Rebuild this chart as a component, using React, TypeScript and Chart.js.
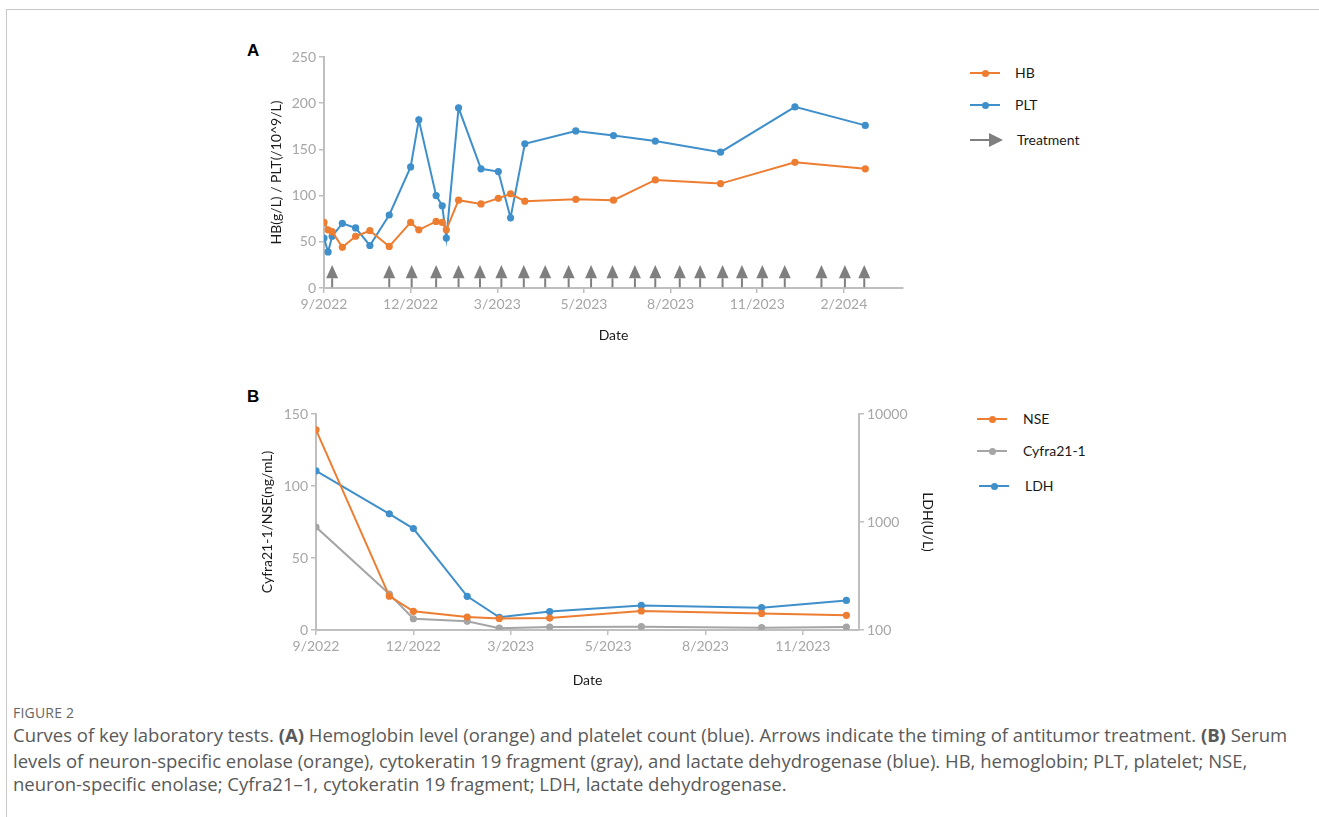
import React, { useEffect, useRef } from "react";
import { Chart, registerables } from "chart.js";

Chart.register(...registerables);

// ---------- Data ----------
const tickStepDays = 85;
const tickLabelsA = ["9/2022", "12/2022", "3/2023", "5/2023", "8/2023", "11/2023", "2/2024"];
const tickLabelsB = ["9/2022", "12/2022", "3/2023", "5/2023", "8/2023", "11/2023"];

// Panel A (days since first axis tick)
const daysA = [0, 4, 8, 18, 31, 45, 64, 85, 93, 110, 116, 120, 132, 154, 171, 183, 197, 247, 284, 325, 389, 462, 531];
const hbValues = [71, 63, 61, 44, 56, 62, 45, 71, 63, 72, 71, 63, 95, 91, 97, 102, 94, 96, 95, 117, 113, 136, 129];
const pltValues = [54, 39, 56, 70, 65, 46, 79, 131, 182, 100, 89, 54, 195, 129, 126, 76, 156, 170, 165, 159, 147, 196, 176];
const treatmentDays = [8, 64, 86, 110, 132, 153, 174, 196, 217, 240, 262, 283, 305, 325, 349, 369, 391, 410, 430, 452, 488, 511, 530];

// Panel B
const daysB = [0, 64, 85, 132, 160, 204, 284, 389, 463];
const nseValues = [139, 23.5, 13, 9, 8, 8.3, 13.2, 11.5, 10.2];
const cyfraValues = [71.5, 25, 7.8, 6, 1.3, 2.1, 2.3, 1.6, 2.1];
const ldhValues = [2980, 1190, 870, 205, 131, 148, 169, 161, 188];

const yTicksA = [0, 50, 100, 150, 200, 250];
const yTicksB = [0, 50, 100, 150];
const yTicksLDH = [100, 1000, 10000];

// ---------- Styles ----------
const ORANGE = "#ED7D31";
const BLUE = "#3F8FCB";
const GRAY = "#A5A5A5";
const ARROW = "#7F7F7F";
const AXIS = "#BFBFBF";
const TICKTXT = "#A6A6A6";
const TITLE = "#1A1A1A";
const FONT = "Lato, 'Open Sans', sans-serif";

const ARROW_TIP = 25;
const ARROW_BASE = 10.5;
const ARROW_TAIL = 0.8;

const tickFont = { family: FONT, size: 14 };
const titleFont = { family: FONT, size: 14 };

const arrowPlugin = {
  id: "treatmentArrows",
  beforeDatasetsDraw(chart: any) {
    const xs = chart.scales.x;
    const ys = chart.scales.y;
    const ctx = chart.ctx;
    ctx.save();
    ctx.fillStyle = ARROW;
    ctx.strokeStyle = ARROW;
    ctx.lineWidth = 2;
    const yTip = ys.getPixelForValue(ARROW_TIP);
    const yBase = ys.getPixelForValue(ARROW_BASE);
    const yEnd = ys.getPixelForValue(ARROW_TAIL);
    for (const d of treatmentDays) {
      const x = xs.getPixelForValue(d);
      ctx.beginPath();
      ctx.moveTo(x, yBase);
      ctx.lineTo(x, yEnd);
      ctx.stroke();
      ctx.beginPath();
      ctx.moveTo(x, yTip);
      ctx.lineTo(x - 6, yBase);
      ctx.lineTo(x + 6, yBase);
      ctx.closePath();
      ctx.fill();
    }
    ctx.restore();
  },
};

function lineDs(label: string, xs: number[], ys: number[], color: string, axis = "y") {
  return {
    label,
    data: xs.map((x, i) => ({ x, y: ys[i] })),
    borderColor: color,
    backgroundColor: color,
    borderWidth: 2,
    pointRadius: 3.6,
    pointBorderWidth: 0,
    pointHoverRadius: 3.6,
    tension: 0,
    yAxisID: axis,
  };
}

const gridCfg = { drawOnChartArea: false, drawTicks: true, tickLength: 5, color: AXIS, lineWidth: 1.5 };
const borderCfg = { display: true, color: AXIS, width: 2 };

function xScale(labels: string[], max: number, height: number) {
  return {
    type: "linear",
    min: 0,
    max,
    afterBuildTicks: (s: any) => {
      s.ticks = labels.map((_, i) => ({ value: i * tickStepDays }));
    },
    afterFit: (s: any) => {
      s.height = height;
    },
    ticks: {
      callback: (_v: any, i: number) => labels[i],
      color: TICKTXT,
      font: tickFont,
      padding: 3,
      maxRotation: 0,
      autoSkip: false,
    },
    grid: gridCfg,
    border: borderCfg,
    title: { display: true, text: "Date", color: TITLE, font: titleFont, padding: { top: 0, bottom: 6 } },
  };
}

function configA(): any {
  return {
    type: "line",
    data: {
      datasets: [lineDs("HB", daysA, hbValues, ORANGE), lineDs("PLT", daysA, pltValues, BLUE)],
    },
    options: {
      responsive: false,
      animation: false,
      devicePixelRatio: 1,
      layout: { padding: { top: 17, right: 17, left: 0, bottom: 0 } },
      plugins: { legend: { display: false }, tooltip: { enabled: false } },
      scales: {
        x: xScale(tickLabelsA, 568, 62),
        y: {
          type: "linear",
          min: 0,
          max: 250,
          afterBuildTicks: (s: any) => {
            s.ticks = yTicksA.map((v) => ({ value: v }));
          },
          afterFit: (s: any) => {
            s.width = 94;
          },
          ticks: { color: TICKTXT, font: tickFont, padding: 3 },
          grid: gridCfg,
          border: borderCfg,
          title: {
            display: true,
            text: "HB(g/L) / PLT(/10^9/L)",
            color: TITLE,
            font: titleFont,
            padding: { top: 38, bottom: 0 },
          },
        },
      },
    },
    plugins: [arrowPlugin],
  };
}

function configB(): any {
  return {
    type: "line",
    data: {
      datasets: [
        lineDs("NSE", daysB, nseValues, ORANGE),
        lineDs("Cyfra21-1", daysB, cyfraValues, GRAY),
        lineDs("LDH", daysB, ldhValues, BLUE, "y1"),
      ],
    },
    options: {
      responsive: false,
      animation: false,
      devicePixelRatio: 1,
      layout: { padding: { top: 19, right: 0, left: 0, bottom: 0 } },
      plugins: { legend: { display: false }, tooltip: { enabled: false } },
      scales: {
        x: xScale(tickLabelsB, 474, 65),
        y: {
          type: "linear",
          position: "left",
          min: 0,
          max: 150,
          afterBuildTicks: (s: any) => {
            s.ticks = yTicksB.map((v) => ({ value: v }));
          },
          afterFit: (s: any) => {
            s.width = 86;
          },
          ticks: { color: TICKTXT, font: tickFont, padding: 3 },
          grid: gridCfg,
          border: borderCfg,
          title: {
            display: true,
            text: "Cyfra21-1/NSE(ng/mL)",
            color: TITLE,
            font: titleFont,
            padding: { top: 29, bottom: 0 },
          },
        },
        y1: {
          type: "logarithmic",
          position: "right",
          min: 100,
          max: 10000,
          afterBuildTicks: (s: any) => {
            s.ticks = yTicksLDH.map((v) => ({ value: v }));
          },
          afterFit: (s: any) => {
            s.width = 91;
          },
          ticks: { color: TICKTXT, font: tickFont, padding: 3, callback: (v: any) => String(v) },
          grid: gridCfg,
          border: borderCfg,
          title: {
            display: true,
            text: "LDH(U/L)",
            color: TITLE,
            font: titleFont,
            padding: { top: 14, bottom: 0 },
          },
        },
      },
    },
  };
}

function LegendLine({ x, y, color, label, textX }: { x: number; y: number; color: string; label: string; textX: number }) {
  return (
    <>
      <div style={{ position: "absolute", left: x, top: y - 1, width: 30, height: 2, background: color }} />
      <div style={{ position: "absolute", left: x + 15 - 3.5, top: y - 3.5, width: 7, height: 7, borderRadius: "50%", background: color }} />
      <div style={{ position: "absolute", left: textX, top: y - 10, height: 20, lineHeight: "20px", fontSize: 14, color: TITLE, fontFamily: FONT, whiteSpace: "nowrap" }}>
        {label}
      </div>
    </>
  );
}

export default function App() {
  const refA = useRef<HTMLCanvasElement>(null);
  const refB = useRef<HTMLCanvasElement>(null);

  useEffect(() => {
    const a = new Chart(refA.current as HTMLCanvasElement, configA());
    const b = new Chart(refB.current as HTMLCanvasElement, configB());
    return () => {
      a.destroy();
      b.destroy();
    };
  }, []);

  const capStyle: React.CSSProperties = {
    position: "absolute",
    left: 13,
    whiteSpace: "nowrap",
    fontFamily: "'Open Sans', sans-serif",
    fontSize: 18.5,
    color: "#595959",
    lineHeight: "24px",
  };

  return (
    <div style={{ position: "absolute", left: 0, top: 0, width: 1319, height: 817, background: "#fff", overflow: "hidden", fontFamily: FONT }}>
      <div style={{ position: "absolute", left: 6, top: 9, width: 1330, height: 830, borderTop: "1px solid #C8C8C8", borderLeft: "1px solid #C8C8C8" }} />

      <div style={{ position: "absolute", left: 247, top: 41, fontFamily: "'Liberation Sans', Arial, sans-serif", fontWeight: 700, fontSize: 17, color: "#000" }}>A</div>
      <div style={{ position: "absolute", left: 247, top: 387, fontFamily: "'Liberation Sans', Arial, sans-serif", fontWeight: 700, fontSize: 17, color: "#000" }}>B</div>

      <canvas ref={refA} width={690} height={310} style={{ position: "absolute", left: 230, top: 40, width: 690, height: 310 }} />
      <canvas ref={refB} width={720} height={300} style={{ position: "absolute", left: 230, top: 395, width: 720, height: 300 }} />

      <LegendLine x={970} y={73} color={ORANGE} label="HB" textX={1015} />
      <LegendLine x={970} y={105} color={BLUE} label="PLT" textX={1015} />
      <div style={{ position: "absolute", left: 970, top: 139, width: 20, height: 2, background: ARROW }} />
      <div style={{ position: "absolute", left: 989, top: 133, width: 0, height: 0, borderTop: "7px solid transparent", borderBottom: "7px solid transparent", borderLeft: `14px solid ${ARROW}` }} />
      <div style={{ position: "absolute", left: 1017, top: 130, height: 20, lineHeight: "20px", fontSize: 14, color: TITLE, fontFamily: FONT }}>Treatment</div>

      <LegendLine x={977} y={419} color={ORANGE} label="NSE" textX={1023} />
      <LegendLine x={977} y={451} color={GRAY} label="Cyfra21-1" textX={1023} />
      <LegendLine x={979} y={486} color={BLUE} label="LDH" textX={1025} />

      <div style={{ ...capStyle, top: 703, fontSize: 14, lineHeight: "20px", color: "#666", letterSpacing: 0.2 }}>FIGURE 2</div>
      <div style={{ ...capStyle, top: 723 }}>
        Curves of key laboratory tests. <b>(A)</b> Hemoglobin level (orange) and platelet count (blue). Arrows indicate the timing of antitumor treatment. <b>(B)</b> Serum
      </div>
      <div style={{ ...capStyle, top: 749 }}>
        levels of neuron-specific enolase (orange), cytokeratin 19 fragment (gray), and lactate dehydrogenase (blue). HB, hemoglobin; PLT, platelet; NSE,
      </div>
      <div style={{ ...capStyle, top: 772 }}>
        neuron-specific enolase; Cyfra21–1, cytokeratin 19 fragment; LDH, lactate dehydrogenase.
      </div>
    </div>
  );
}
